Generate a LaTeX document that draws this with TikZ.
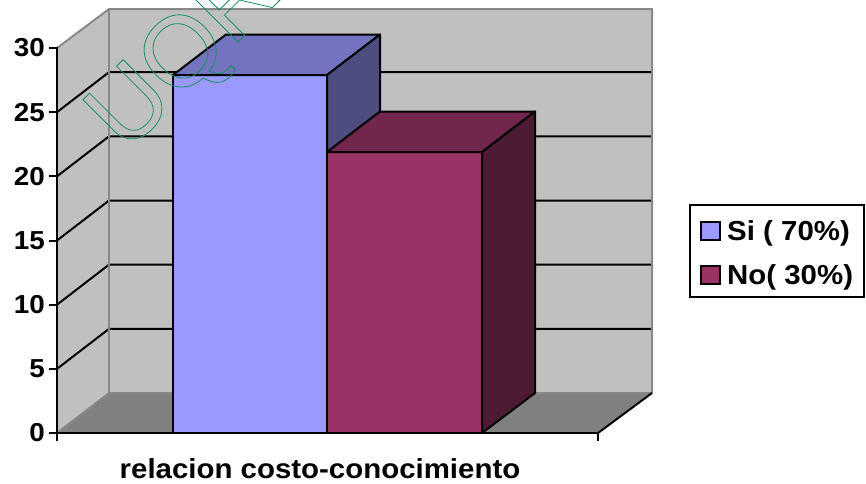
\documentclass[tikz,border=0pt]{standalone}
\usepackage{fontspec}
\setmainfont{Liberation Sans}[FakeStretch=1.07]
\newfontfamily\wmfont{Liberation Sans}
\definecolor{wall}{HTML}{C0C0C0}
\definecolor{floorc}{HTML}{808080}
\definecolor{edgec}{HTML}{888888}
\definecolor{bluef}{HTML}{9999FF}
\definecolor{bluet}{HTML}{7373BF}
\definecolor{blues}{HTML}{4D4D80}
\definecolor{redf}{HTML}{993366}
\definecolor{redt}{HTML}{73264D}
\definecolor{reds}{HTML}{4D1A33}
\definecolor{wm}{HTML}{1A9060}
\newcommand{\outlinetext}[1]{\special{pdf:literal direct 1 Tr 0.8 w}#1\special{pdf:literal direct 0 Tr}}
\tikzset{
  barline/.style={draw=black, line width=2pt, line join=round},
  grid/.style={black, line width=2pt},
  wedge/.style={edgec, line width=2pt},
  ticklab/.style={anchor=east, inner sep=0pt, font=\fontsize{26}{26}\selectfont\bfseries},
  legtext/.style={anchor=base west, inner sep=0pt, font=\fontsize{27.5}{27.5}\selectfont\bfseries},
  legbox/.style={draw=black, line width=1.5pt},
}
\begin{document}
\begin{tikzpicture}[x=1pt, y=-1pt]
\useasboundingbox (0,0) rectangle (866,483);
% walls and floor
\fill[wall] (57,48) -- (109,9) -- (109,393) -- (57,433) -- cycle;
\fill[wall] (109,9) rectangle (652,393);
\fill[floorc] (57,433) -- (109,393) -- (652,393) -- (598,433) -- cycle;
% gridlines
\foreach \k in {1,...,5} {
  \pgfmathsetmacro{\yb}{393-\k*64.1667}
  \pgfmathsetmacro{\yf}{433-\k*64.1667}
  \draw[grid] (57,\yf) -- (109,\yb) -- (652,\yb);
}
% wall edges
\draw[wedge] (57,48) -- (109,9) -- (652,9) -- (652,393);
\draw[wedge] (109,9) -- (109,393);
\draw[wedge] (57,433) -- (109,393) -- (652,393);
\draw[black, line width=2pt] (652,393) -- (598,433);
% blue bar
\filldraw[barline, fill=bluef] (173,75) rectangle (327,433);
\filldraw[barline, fill=bluet] (173,75) -- (226,34.5) -- (380,34.5) -- (327,75) -- cycle;
\filldraw[barline, fill=blues] (327,75) -- (380,34.5) -- (380,393) -- (327,433) -- cycle;
% red bar
\filldraw[barline, fill=redf] (327,152) rectangle (482,433);
\filldraw[barline, fill=redt] (327,152) -- (380,111.5) -- (535,111.5) -- (482,152) -- cycle;
\filldraw[barline, fill=reds] (482,152) -- (535,111.5) -- (535,393) -- (482,433) -- cycle;
% axes
\draw[black, line width=2pt] (57,47) -- (57,433) -- (598,433);
\foreach \v [count=\i from 0] in {0,5,10,15,20,25,30} {
  \pgfmathsetmacro{\yy}{433-\i*64.1667}
  \draw[black, line width=2pt] (49,\yy) -- (57,\yy);
  \node[ticklab] (t\i) at (45,\yy) {\v};
}
\draw[black, line width=2pt] (57,433) -- (57,441);
\draw[black, line width=2pt] (598,433) -- (598,441);
\node[anchor=base, inner sep=0pt, font=\fontsize{27.5}{27.5}\selectfont\bfseries] (xl) at (320,478) {relacion costo-conocimiento};
% legend
\draw[legbox] (690,205) rectangle (864,297);
\filldraw[draw=black, line width=1.5pt, fill=bluef] (701,222) rectangle (720,240);
\filldraw[draw=black, line width=1.5pt, fill=redf] (701,266) rectangle (720,284);
\node[legtext] (l1) at (727,240) {Si ( 70\%)};
\node[legtext] (l2) at (727,284) {No( 30\%)};
% watermark
\begin{scope}
\clip (0,0) rectangle (866,483);
\node[anchor=base west, inner sep=0pt, rotate=45, text=wm] (wmk) at (126,154)
  {\wmfont\fontsize{100}{100}\selectfont\outlinetext{UQROO}};
\end{scope}
\end{tikzpicture}
\end{document}
